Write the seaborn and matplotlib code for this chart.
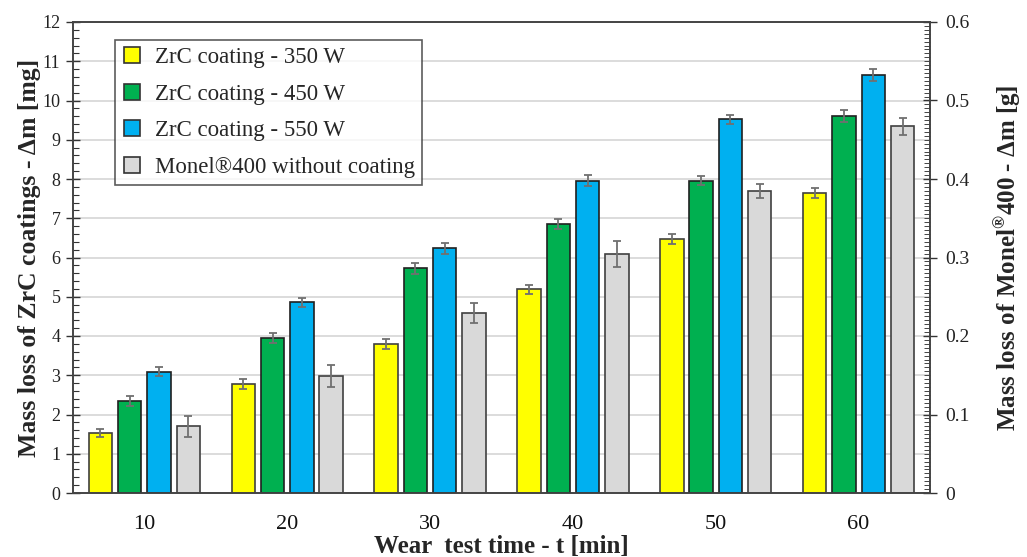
import numpy as np
import pandas as pd
import matplotlib
matplotlib.use("Agg")
import matplotlib.pyplot as plt
from matplotlib.lines import Line2D
from matplotlib.ticker import MultipleLocator
import seaborn as sns

# ---- data ----
times = ["10", "20", "30", "40", "50", "60"]
series_names = ["ZrC coating - 350 W", "ZrC coating - 450 W",
                "ZrC coating - 550 W", "Monel®400 without coating"]
zrc_350 = [1.52, 2.78, 3.80, 5.19, 6.47, 7.65]          # mg
zrc_450 = [2.34, 3.95, 5.72, 6.85, 7.96, 9.60]          # mg
zrc_550 = [3.09, 4.86, 6.23, 7.96, 9.52, 10.65]         # mg
monel_g = [0.085, 0.149, 0.229, 0.305, 0.385, 0.467]    # g (right axis)
err_350 = [0.10, 0.12, 0.12, 0.12, 0.12, 0.13]
err_450 = [0.12, 0.12, 0.13, 0.12, 0.12, 0.15]
err_550 = [0.12, 0.12, 0.13, 0.13, 0.12, 0.15]
err_monel_g = [0.0135, 0.0140, 0.0125, 0.0165, 0.0090, 0.0110]
colors = ["#FFFF00", "#00B050", "#00B0F0", "#D9D9D9"]
edge_colors = ["#404040", "#202020", "#202020", "#404040"]

left_max, right_max = 12.0, 0.6
scale = left_max / right_max  # g -> left-axis units

sns.set_theme(style="white")
plt.rcParams['font.family'] = ['Liberation Serif', 'DejaVu Serif']
plt.rcParams['mathtext.fontset'] = 'custom'
plt.rcParams['mathtext.rm'] = 'Liberation Serif'
plt.rcParams['mathtext.bf'] = 'Liberation Serif:bold'

rows = []
vals = [zrc_350, zrc_450, zrc_550, [v * scale for v in monel_g]]
errs = [err_350, err_450, err_550, [e * scale for e in err_monel_g]]
for name, vs in zip(series_names, vals):
    for t, v in zip(times, vs):
        rows.append({"time": t, "series": name, "value": v})
df = pd.DataFrame(rows)

fig = plt.figure(figsize=(10.27, 5.57), dpi=100)
ax = fig.add_axes([73/1027, 1-493/557, (930-73)/1027, (493-22)/557])

sns.barplot(data=df, x="time", y="value", hue="series", order=times,
            hue_order=series_names, palette=colors, width=0.82, gap=0.2,
            errorbar=None, legend=False, ax=ax, saturation=1, zorder=3)

bar_conts = list(ax.containers)
for i, cont in enumerate(bar_conts):
    xs = [b.get_x() + b.get_width()/2 for b in cont]
    hs = [b.get_height() for b in cont]
    for b in cont:
        b.set_edgecolor(edge_colors[i])
        b.set_linewidth(1.2)
    ax.errorbar(xs, hs, yerr=errs[i], fmt='none', ecolor='#707070',
                elinewidth=1.3, capsize=3, capthick=1.3, zorder=4)

ax.set_xlim(-0.5, 5.5)
ax.set_ylim(0, left_max)
ax.yaxis.set_major_locator(MultipleLocator(1))
ax.yaxis.set_minor_locator(MultipleLocator(0.2))
ax.grid(axis='y', which='major', color='#D9D9D9', lw=1.3, zorder=0)
ax.set_axisbelow(True)
ax.tick_params(axis='y', which='major', direction='inout', length=10,
               width=1, color='#333333', labelsize=13, pad=4, labelcolor='#222222')
ax.tick_params(axis='y', which='minor', direction='in', length=4,
               width=0.8, color='#333333', left=True)
ax.tick_params(axis='x', length=0, labelsize=16, pad=16, labelcolor='#111111')
for s in ax.spines.values():
    s.set_color('#444444')
    s.set_linewidth(1.2)

ax.set_xlabel("Wear  test time - t [min]", fontsize=18, fontweight='bold',
              labelpad=0.5)
ax.set_ylabel("Mass loss of ZrC coatings - Δm [mg]", fontsize=18.5,
              fontweight='bold', labelpad=1)

ax2 = ax.twinx()
ax2.set_ylim(0, right_max)
ax2.yaxis.set_major_locator(MultipleLocator(0.1))
ax2.yaxis.set_minor_locator(MultipleLocator(0.005))
ax2.yaxis.set_major_formatter(matplotlib.ticker.FuncFormatter(
    lambda v, p: "0" if abs(v) < 1e-9 else f"{v:.1f}"))
ax2.tick_params(axis='y', which='major', direction='inout', length=10,
                width=1, color='#333333', labelsize=14, pad=6, labelcolor='#222222')
ax2.tick_params(axis='y', which='minor', direction='in', length=4,
                width=0.7, color='#444444', right=True)
ax2.grid(False)
for s in ax2.spines.values():
    s.set_color('#444444')
    s.set_linewidth(1.2)
ax2.set_ylabel(r"Mass loss of Monel$^{\mathbf{®}}$400 - Δm [g]", fontsize=18,
               fontweight='bold', labelpad=16)

handles = [Line2D([], [], marker='s', linestyle='none', markersize=11,
                  markerfacecolor=c, markeredgecolor='#333333',
                  markeredgewidth=1.2) for c in colors]
leg = ax.legend(handles, series_names, loc='upper left',
                bbox_to_anchor=(42/857, 1-18/471), borderaxespad=0,
                fontsize=16.5, frameon=True, fancybox=False, edgecolor='#333333',
                labelspacing=0.68, handletextpad=0.55, borderpad=0.3,
                handlelength=0.9)
leg.get_frame().set_linewidth(1.2)
leg.set_zorder(10)

fig.savefig("out.png", dpi=100)
